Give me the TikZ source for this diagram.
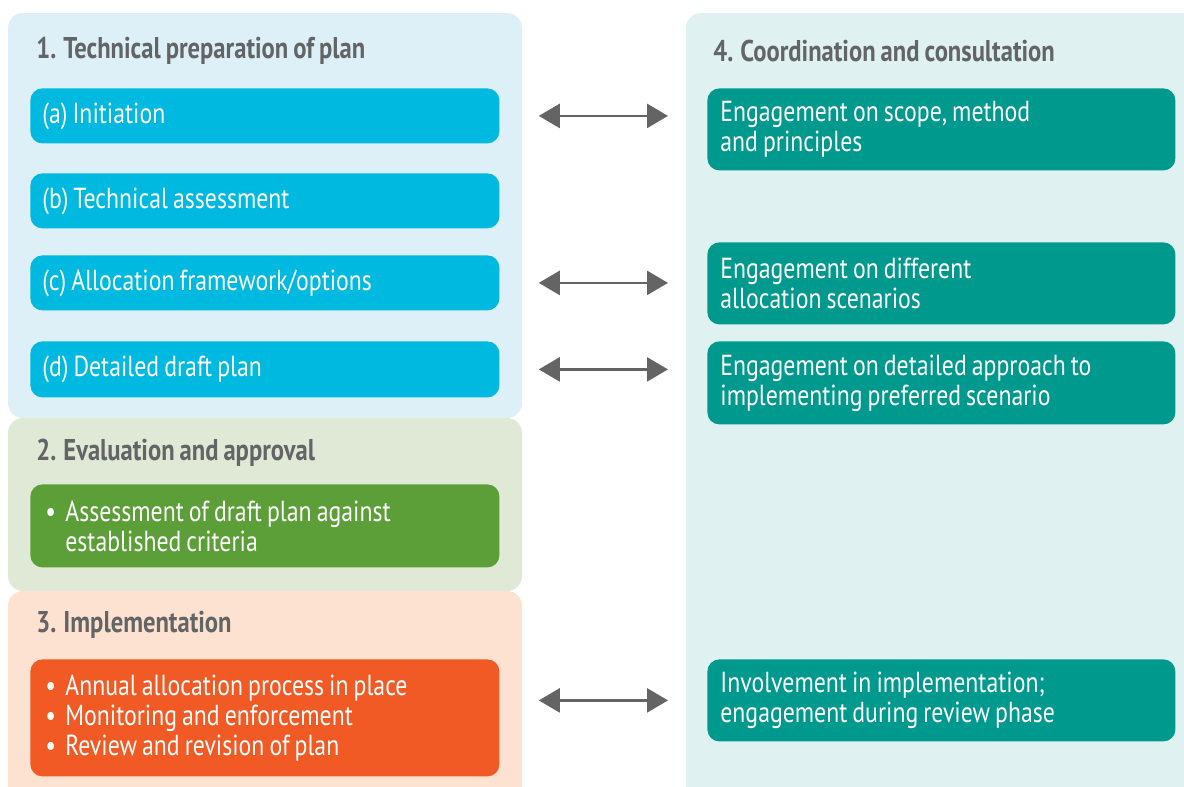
\documentclass[tikz,border=0pt]{standalone}
\usepackage{fontspec}
\setmainfont{PT Sans}[FakeStretch=0.82,WordSpace=0.8]
\usetikzlibrary{arrows.meta,positioning}

\definecolor{paneblue}{HTML}{DDF0F8}
\definecolor{boxblue}{HTML}{00B9E0}
\definecolor{panegreen}{HTML}{DFE9D6}
\definecolor{boxgreen}{HTML}{5C9F38}
\definecolor{paneorange}{HTML}{FDE2D2}
\definecolor{boxorange}{HTML}{F15A24}
\definecolor{paneteal}{HTML}{DFF1F1}
\definecolor{boxteal}{HTML}{00998E}
\definecolor{headgray}{HTML}{636466}
\definecolor{arrowgray}{HTML}{646464}

\newcommand{\bitem}[1]{\makebox[11.5pt][l]{\hspace{1.5pt}\textbullet}\parbox[t]{210pt}{\raggedright #1}}

\tikzset{
  stepbox/.style={anchor=north west, rounded corners=6pt, text=white, align=flush left,
    inner xsep=6pt, inner ysep=0pt, font=\fontsize{14.5}{15}\selectfont},
  leftbox/.style={stepbox, minimum width=234.5pt, text width=222.5pt},
  rightbox/.style={stepbox, fill=boxteal, minimum width=234pt, text width=221pt, inner xsep=6.5pt},
  phasetitle/.style={anchor=west, text=headgray, inner sep=0pt,
    font=\fontsize{15}{15}\selectfont\bfseries},
  biarrow/.style={{Triangle[length=10.5pt,width=12pt]}-{Triangle[length=10.5pt,width=12pt]},
    line width=1.3pt, draw=arrowgray, shorten <=19.5pt, shorten >=19.5pt},
}

\begin{document}
\begin{tikzpicture}[x=0.5pt,y=-0.5pt]
\useasboundingbox (0,0) rectangle (1184,787);
\clip (0,0) rectangle (1184,787);

% background panels
\fill[paneblue,rounded corners=7.5pt] (8,13) rectangle (522,418);
\fill[panegreen,rounded corners=7.5pt] (8,418) rectangle (522,591);
\fill[paneorange,rounded corners=7.5pt] (8,591) rectangle (522,810);
\fill[paneteal,rounded corners=7.5pt] (686,13) rectangle (1210,810);

\node[phasetitle] (tech) at (36,51) {1. Technical preparation of plan};
\node[phasetitle] (coord) at (713,51) {4. Coordination and consultation};
\node[phasetitle] (eval) at (36,453) {2. Evaluation and approval};
\node[phasetitle] (impl) at (36,625) {3. Implementation};

\node[leftbox, fill=boxblue, minimum height=27.5pt] (init) at (30,88) {(a) Initiation};
\node[leftbox, fill=boxblue, minimum height=27.5pt] (assess) at (30,173) {(b) Technical assessment};
\node[leftbox, fill=boxblue, minimum height=27.5pt] (options) at (30,255) {(c) Allocation framework/options};
\node[leftbox, fill=boxblue, minimum height=28pt] (draft) at (30,341) {(d) Detailed draft plan};

\node[leftbox, fill=boxgreen, minimum height=41.5pt] (approve) at (30,484)
  {\bitem{Assessment of draft plan against\\established criteria}};
\node[leftbox, fill=boxorange, minimum height=58.5pt] (implement) at (30,659)
  {\bitem{Annual allocation process in place}\\\bitem{Monitoring and enforcement}\\\bitem{Review and revision of plan}};

\node[rightbox, minimum height=41pt] (scope) at (707,88) {Engagement on scope, method\\and principles};
\node[rightbox, minimum height=41pt] (scenarios) at (707,242) {Engagement on different\\allocation scenarios};
\node[rightbox, minimum height=41.5pt] (approach) at (707,341) {Engagement on detailed approach to\\implementing preferred scenario};
\node[rightbox, minimum height=41pt] (involve) at (707,659) {Involvement in implementation;\\engagement during review phase};

% Arrows between the two columns
\draw[biarrow] (init.east) -- (init.east -| scope.west);
\draw[biarrow] (options.east) -- (options.east -| scenarios.west);
\draw[biarrow] (draft.east) -- (draft.east -| approach.west);
\draw[biarrow] (implement.east |- involve.west) -- (involve.west);
\end{tikzpicture}
\end{document}
